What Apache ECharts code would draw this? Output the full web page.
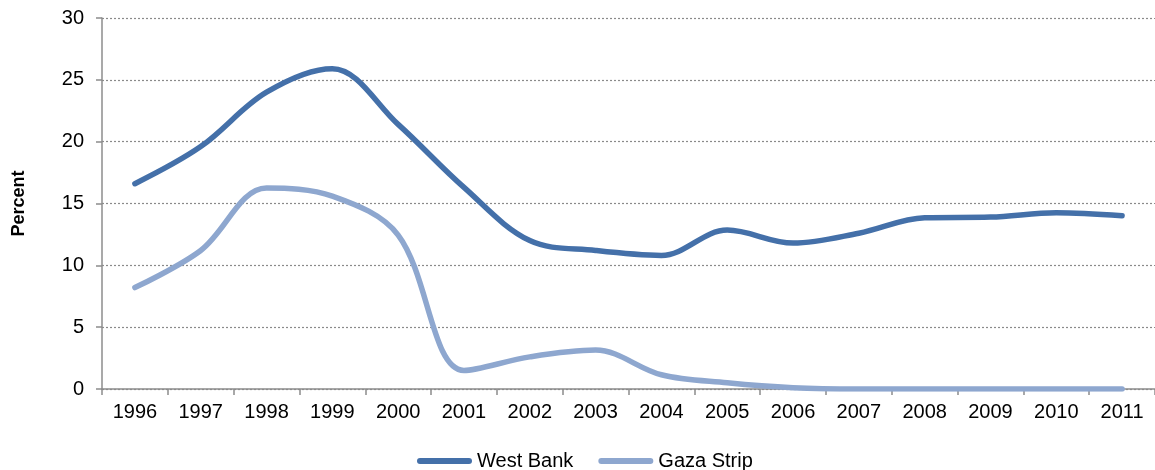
<!DOCTYPE html>
<html>
<head>
<meta charset="utf-8">
<script src="https://cdn.jsdelivr.net/npm/echarts@6/dist/echarts.min.js"></script>
<style>
  html, body { margin: 0; padding: 0; background: #fff; }
  #chart { width: 1155px; height: 470px; }
</style>
</head>
<body>
<div id="chart"></div>
<script>
// Share of employment, by region (percent)
const years = ['1996', '1997', '1998', '1999', '2000', '2001', '2002', '2003',
               '2004', '2005', '2006', '2007', '2008', '2009', '2010', '2011'];
const westBank = [16.6, 19.6, 24.0, 25.9, 21.4, 16.3, 12.0, 11.2,
                  10.8, 12.85, 11.8, 12.6, 13.85, 13.9, 14.25, 14.0];
const gazaStrip = [8.2, 11.2, 16.25, 15.6, 12.45, 1.5, 2.6, 3.15,
                   1.15, 0.5, 0.1, 0, 0, 0, 0, 0];
const yTicks = { min: 0, max: 30, interval: 5 };

const FONT = '"Liberation Sans", Arial, sans-serif';
const legendIcon = 'path://M3,0 H52 A3,3 0 0 1 52,6 H3 A3,3 0 0 1 3,0 Z';

const chart = echarts.init(document.getElementById('chart'), null, { renderer: 'canvas' });
chart.setOption({
  animation: false,
  backgroundColor: '#ffffff',
  textStyle: { fontFamily: FONT },
  grid: { left: 102, top: 18, width: 1056, bottom: 81, containLabel: false },
  legend: {
    left: 412,
    top: 446,
    itemWidth: 55,
    itemHeight: 6,
    itemGap: 25,
    textStyle: { fontFamily: FONT, fontSize: 20, color: '#000' },
    data: [
      { name: 'West Bank', icon: legendIcon },
      { name: 'Gaza Strip', icon: legendIcon }
    ]
  },
  xAxis: {
    type: 'category',
    data: years,
    boundaryGap: true,
    axisLine: { lineStyle: { color: '#8c8c8c', width: 1.5 } },
    axisTick: { show: true, length: 6, interval: 0, lineStyle: { color: '#8c8c8c', width: 1.5 } },
    axisLabel: { color: '#000', fontSize: 20, fontFamily: FONT, margin: 13, interval: 0 }
  },
  yAxis: {
    type: 'value',
    min: yTicks.min,
    max: yTicks.max,
    interval: yTicks.interval,
    name: 'Percent',
    nameLocation: 'middle',
    nameRotate: 90,
    nameGap: 74,
    nameTextStyle: { color: '#000', fontSize: 18, fontWeight: 'bold', fontFamily: FONT },
    axisLine: { show: true, lineStyle: { color: '#8c8c8c', width: 1.5 } },
    axisTick: { show: true, length: 6, lineStyle: { color: '#8c8c8c', width: 1.5 } },
    axisLabel: { color: '#000', fontSize: 20, fontFamily: FONT, margin: 18 },
    splitLine: { show: true, lineStyle: { color: '#8a8a8a', type: [2, 2], width: 1.2 } }
  },
  series: [
    {
      name: 'West Bank',
      type: 'line',
      data: westBank,
      smooth: 0.35,
      showSymbol: false,
      symbol: 'none',
      color: '#4470a9',
      lineStyle: { width: 5.5, color: '#4470a9', cap: 'round', join: 'round' },
      z: 3
    },
    {
      name: 'Gaza Strip',
      type: 'line',
      data: gazaStrip,
      smooth: 0.35,
      showSymbol: false,
      symbol: 'none',
      color: '#8ea7cf',
      lineStyle: { width: 5.5, color: '#8ea7cf', cap: 'round', join: 'round' },
      z: 2
    }
  ]
});
</script>
</body>
</html>
